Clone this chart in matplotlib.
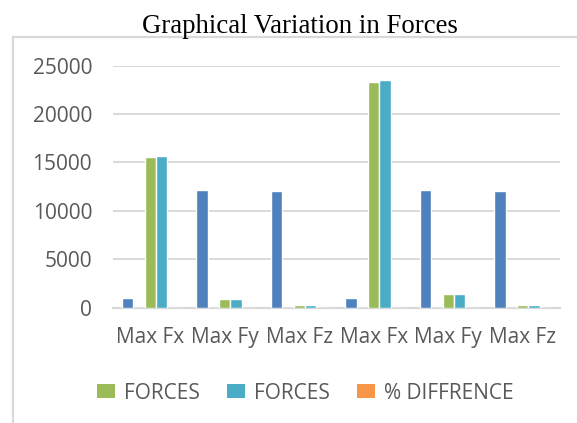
import numpy as np
import matplotlib.pyplot as plt
from matplotlib.lines import Line2D
from matplotlib.patches import Patch

# categorias y valores
categorias = ["Max Fx", "Max Fy", "Max Fz", "Max Fx", "Max Fy", "Max Fz"]
serie_azul = [960, 12190, 12060, 960, 12190, 12060]
serie_vacia = [0, 0, 0, 0, 0, 0]
fuerzas_1 = [15540, 920, 240, 23310, 1410, 280]
fuerzas_2 = [15670, 930, 260, 23490, 1420, 330]
diferencia = [0.8, 1.1, 8.3, 0.8, 0.7, 17.9]

etiquetas = ["", "", "FORCES", "FORCES", "% DIFFRENCE"]
colores = ["#4f81bd", "#c0504d", "#9bbb59", "#4bacc6", "#f79646"]
series = [serie_azul, serie_vacia, fuerzas_1, fuerzas_2, diferencia]

W, H = 577, 423
fig = plt.figure(figsize=(W / 100, H / 100), dpi=100)
plt.rcParams['font.family'] = ['Open Sans', 'DejaVu Sans']

# area del grafico en pixeles
izq, der, arriba, abajo = 113, 560, 65.7, 307.7
ax = fig.add_axes([izq / W, 1 - abajo / H, (der - izq) / W, (abajo - arriba) / H])

x = np.arange(len(categorias))
ancho = 1 / 6.5
for k, (vals, col) in enumerate(zip(series, colores)):
    ax.bar(x + (k - 2) * ancho, vals, width=ancho, color=col,
           edgecolor="white", linewidth=1.0, zorder=3)

ax.set_xlim(-0.5, len(categorias) - 0.5)
ax.set_ylim(0, 25000)
ax.set_yticks(range(0, 25001, 5000))
ax.set_xticks(x)
ax.set_xticklabels(categorias)
ax.grid(axis="y", color="#d9d9d9", linewidth=1.4, zorder=0)
for s in ["top", "right", "left"]:
    ax.spines[s].set_visible(False)
ax.spines["bottom"].set_color("#d9d9d9")
ax.spines["bottom"].set_linewidth(1.6)
ax.tick_params(axis="both", length=0, labelsize=15, labelcolor="#595959")
ax.tick_params(axis="y", pad=15)
ax.tick_params(axis="x", pad=14)
ax.set_facecolor("none")

# legenda (solo las tres series con nombre)
handles = [Patch(facecolor=c, edgecolor="none") for c, e in zip(colores, etiquetas) if e]
labels = [e for e in etiquetas if e]
fig.legend(handles, labels, loc="center", bbox_to_anchor=(305 / W, 1 - 393 / H),
           ncol=3, frameon=False, fontsize=15, handlelength=0.9, handleheight=0.68,
           handletextpad=0.4, columnspacing=1.3, labelcolor="#595959")

# marco del grafico
borde_x = 12.7 / W
borde_y = 1 - 37 / H
fig.add_artist(Line2D([borde_x, borde_x], [0, borde_y], color="#d9d9d9", linewidth=1.6))
fig.add_artist(Line2D([borde_x, 1], [borde_y, borde_y], color="#d9d9d9", linewidth=1.6))

fig.text(300 / W, 1 - 33 / H, "Graphical Variation in Forces", ha="center",
         va="baseline", fontsize=19.3, family="Liberation Serif", color="black")

fig.savefig("out.png", dpi=100)
